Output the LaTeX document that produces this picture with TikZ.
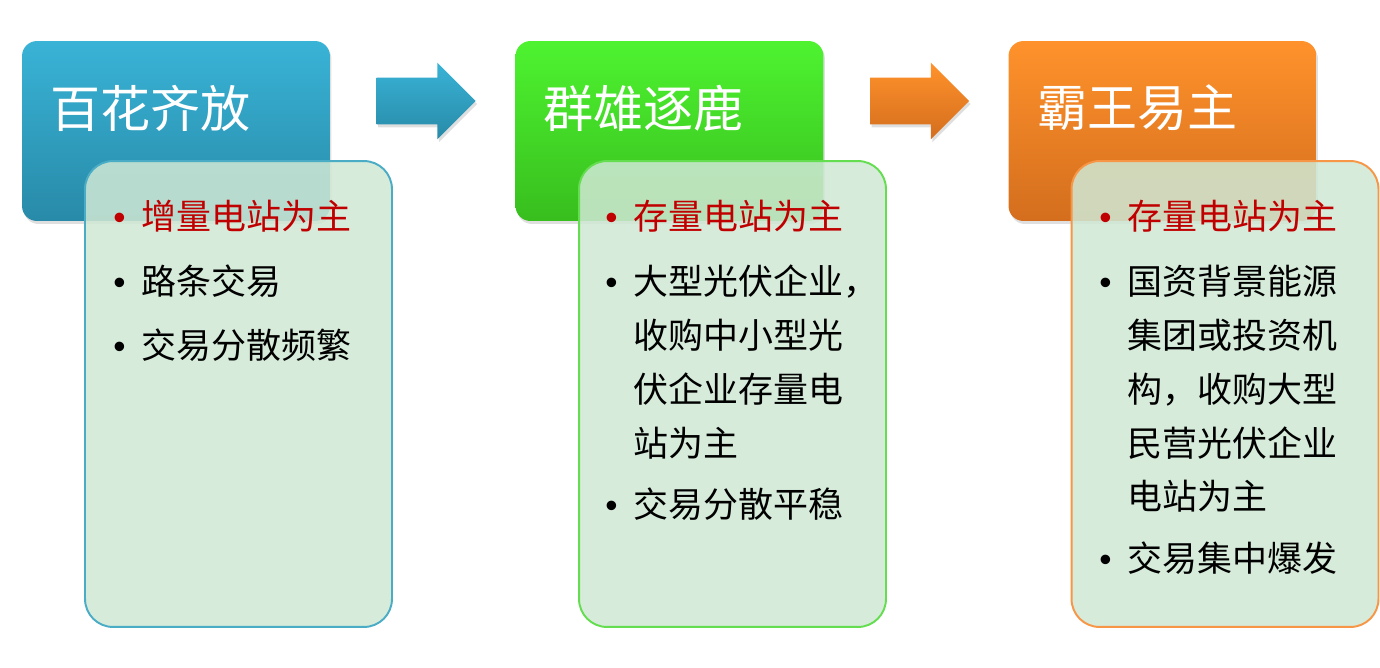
\documentclass[tikz,border=0pt]{standalone}
\usepackage{fontspec}
\setmainfont{Noto Sans CJK SC}
\newfontfamily\dotfont{Liberation Sans}
\usetikzlibrary{shapes.arrows,shadows}

\definecolor{blueTop}{RGB}{57,179,214}
\definecolor{blueBot}{RGB}{40,138,168}
\definecolor{greenTop}{RGB}{78,243,48}
\definecolor{greenBot}{RGB}{56,190,30}
\definecolor{orangeTop}{RGB}{255,146,43}
\definecolor{orangeBot}{RGB}{212,110,30}
\definecolor{cardFill}{RGB}{207,232,212}
\definecolor{blueLine}{RGB}{75,172,198}
\definecolor{greenLine}{RGB}{100,222,80}
\definecolor{orangeLine}{RGB}{247,150,70}
\definecolor{keyRed}{RGB}{192,0,0}

\newcommand{\bitem}[1]{\makebox[0.58cm][l]{\hspace{0.02cm}{\dotfont •}}\parbox[t]{5.4cm}{#1}}
\newcommand{\hot}[1]{\textcolor{keyRed}{#1}}

\begin{document}
\begin{tikzpicture}[
  x=0.02cm, y=-0.02cm,
  head/.style={rounded corners=0.3cm, minimum width=6.16cm, minimum height=3.6cm,
    drop shadow={opacity=0.25, shadow xshift=0.03cm, shadow yshift=-0.06cm}},
  title/.style={anchor=west, inner sep=0, text=white, font=\fontsize{28.5}{34}\selectfont},
  card/.style={draw, line width=1.1pt, rounded corners=0.56cm, fill=cardFill, fill opacity=0.86,
    minimum width=6.14cm, minimum height=9.32cm},
  items/.style={anchor=north west, inner sep=0, align=left, font=\fontsize{19.9}{30.7}\selectfont},
  flow/.style={single arrow, inner sep=0, minimum height=1.98cm, minimum width=1.52cm,
    single arrow head extend=0.3cm, single arrow tip angle=90,
    drop shadow={opacity=0.25, shadow xshift=0.03cm, shadow yshift=-0.06cm}}
]
\useasboundingbox (0,0) rectangle (1380,667);

% stage headers
\node[head, top color=blueTop, bottom color=blueBot] (h1) at (176,131) {};
\node[head, top color=greenTop, bottom color=greenBot] (h2) at (669.5,131) {};
\node[head, top color=orangeTop, bottom color=orangeBot] (h3) at (1162.5,131) {};
\node[title] (t1) at (50,108) {百花齐放};
\node[title] (t2) at (543,108) {群雄逐鹿};
\node[title] (t3) at (1037,108) {霸王易主};

% arrows between stages
\node[flow, top color=blueTop, bottom color=blueBot] (arr1) at (414.5,101) {\rule{0pt}{0.92cm}};
\node[flow, top color=orangeTop, bottom color=orangeBot] (arr2) at (908,101) {\rule{0pt}{0.92cm}};

% detail cards
\node[card, draw=blueLine] (c1) at (238.5,394) {};
\node[card, draw=greenLine] (c2) at (732.5,394) {};
\node[card, draw=orangeLine] (c3) at (1225,394) {};

\node[items] (l1) at (112,200) {\hot{\bitem{增量电站为主}}\\[0.21cm]
  \bitem{路条交易}\\[0.2cm]
  \bitem{交易分散频繁}};
\node[items] (l2) at (604,200) {\hot{\bitem{存量电站为主}}\\[0.21cm]
  \bitem{大型光伏企业，\\收购中小型光\\伏企业存量电\\站为主}\\[0.55cm]
  \bitem{交易分散平稳}};
\node[items] (l3) at (1098,200) {\hot{\bitem{存量电站为主}}\\[0.21cm]
  \bitem{国资背景能源\\集团或投资机\\构，收购大型\\民营光伏企业\\电站为主}\\[0.55cm]
  \bitem{交易集中爆发}};
\end{tikzpicture}
\end{document}
